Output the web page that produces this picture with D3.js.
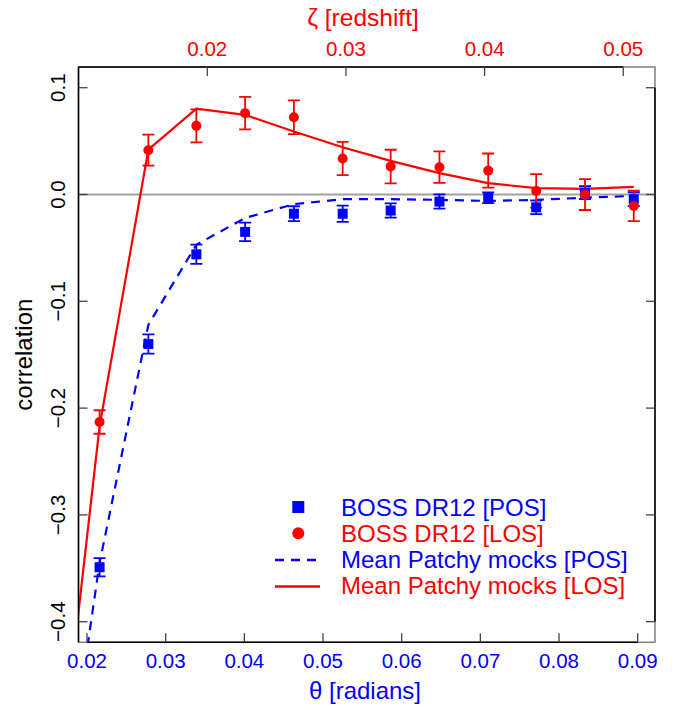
<!DOCTYPE html>
<html>
<head>
<meta charset="utf-8">
<script src="https://cdn.jsdelivr.net/npm/d3@7"></script>
<style>
  body { margin: 0; background: #fff; }
  text { font-family: "Liberation Sans", Arial, sans-serif; }
</style>
</head>
<body>
<svg id="mysvg"></svg>
<script>
// angular separations (radians) where correlations were measured
var theta = [0.0216, 0.0278, 0.0339, 0.0401, 0.0463, 0.0525, 0.0586, 0.0648, 0.0710, 0.0771, 0.0833, 0.0895];

// BOSS DR12 measurements
var posData = [-0.349, -0.140, -0.056, -0.035, -0.018, -0.018, -0.015, -0.0066, -0.003, -0.012, 0.0018, -0.0044];
var posErr  = [0.0085, 0.009, 0.009, 0.0086, 0.007, 0.0076, 0.0067, 0.0067, 0.005, 0.0064, 0.006, 0.0065];
var losData = [-0.213, 0.0415, 0.0643, 0.0762, 0.0724, 0.0337, 0.0262, 0.0256, 0.0224, 0.0034, 0.0, -0.0107];
var losErr  = [0.011, 0.0145, 0.0155, 0.0153, 0.0158, 0.0155, 0.0157, 0.0147, 0.016, 0.0157, 0.0145, 0.0143];

// mean of the Patchy mocks (first point sits left of the plot and is clipped)
var thetaMock = [0.0154, 0.0216, 0.0278, 0.0339, 0.0401, 0.0463, 0.0525, 0.0586, 0.0648, 0.0710, 0.0771, 0.0833, 0.0895];
var posMock = [-0.66, -0.345, -0.122, -0.047, -0.022, -0.009, -0.0044, -0.0044, -0.005, -0.006, -0.005, -0.003, -0.0013];
var losMock = [-0.619, -0.217, 0.042, 0.0805, 0.0746, 0.059, 0.0443, 0.0315, 0.020, 0.0106, 0.0059, 0.0052, 0.0071];

// tick labels
var thetaTicks = [0.02, 0.03, 0.04, 0.05, 0.06, 0.07, 0.08, 0.09];
var zTicks = [0.02, 0.03, 0.04, 0.05];
var corrTicks = [-0.4, -0.3, -0.2, -0.1, 0.0, 0.1];

var legendLabels = ["BOSS DR12 [POS]", "BOSS DR12 [LOS]", "Mean Patchy mocks [POS]", "Mean Patchy mocks [LOS]"];

var BLUE = "#0000ff", RED = "#ff0000";
var W = 679, H = 710;
// plot frame (note: "top" is reserved on window, so use pTop etc)
var pLeft = 78.5, pRight = 655, pTop = 67, pBottom = 642.3;

var svg = d3.select("#mysvg").attr("width", W).attr("height", H);

var x = d3.scaleLinear().domain([0.01892, 0.0922]).range([pLeft, pRight]);
var xz = d3.scaleLinear().domain([0.01071, 0.05229]).range([pLeft, pRight]);
var y = d3.scaleLinear().domain([-0.4193, 0.1194]).range([pBottom, pTop]);

svg.append("defs").append("clipPath").attr("id", "plotclip")
  .append("rect").attr("x", pLeft).attr("y", pTop)
  .attr("width", pRight - pLeft).attr("height", pBottom - pTop);

var plot = svg.append("g").attr("clip-path", "url(#plotclip)");

// zero reference
plot.append("line")
  .attr("x1", pLeft).attr("x2", pRight)
  .attr("y1", y(0)).attr("y2", y(0))
  .style("stroke", "#a0a0a0").style("stroke-width", 1.8);

var line = d3.line()
  .x(function(d) { return x(d[0]); })
  .y(function(d) { return y(d[1]); });

plot.append("path")
  .datum(d3.zip(thetaMock, posMock))
  .attr("d", line)
  .style("fill", "none").style("stroke", BLUE)
  .style("stroke-width", 2.2).style("stroke-dasharray", "9,7");

plot.append("path")
  .datum(d3.zip(thetaMock, losMock))
  .attr("d", line)
  .style("fill", "none").style("stroke", RED)
  .style("stroke-width", 2.2);

// error bars with caps
function errorBars(vals, errs, color) {
  var g = plot.append("g").style("stroke", color).style("stroke-width", 1.8);
  theta.forEach(function(t, i) {
    var cx = x(t), y0 = y(vals[i] - errs[i]), y1 = y(vals[i] + errs[i]);
    g.append("line").attr("x1", cx).attr("x2", cx).attr("y1", y0).attr("y2", y1);
    g.append("line").attr("x1", cx - 6).attr("x2", cx + 6).attr("y1", y0).attr("y2", y0);
    g.append("line").attr("x1", cx - 6).attr("x2", cx + 6).attr("y1", y1).attr("y2", y1);
  });
}
errorBars(posData, posErr, BLUE);
errorBars(losData, losErr, RED);

plot.selectAll(".sq")
  .data(d3.zip(theta, posData))
  .enter().append("rect")
  .attr("x", function(d) { return x(d[0]) - 5; })
  .attr("y", function(d) { return y(d[1]) - 5; })
  .attr("width", 10).attr("height", 10)
  .style("fill", BLUE);

plot.selectAll(".dot")
  .data(d3.zip(theta, losData))
  .enter().append("circle")
  .attr("cx", function(d) { return x(d[0]); })
  .attr("cy", function(d) { return y(d[1]); })
  .attr("r", 5)
  .style("fill", RED);

// box: gray outline, black axis lines between end ticks
svg.append("rect")
  .attr("x", pLeft).attr("y", pTop)
  .attr("width", pRight - pLeft).attr("height", pBottom - pTop)
  .style("fill", "none").style("stroke", "#808080").style("stroke-width", 1.5);

var axisLines = [
  [pLeft, pTop, pLeft, pBottom],
  [pLeft, pTop, xz(0.05), pTop],
  [x(0.02), pBottom, x(0.09), pBottom],
  [pRight, y(-0.4), pRight, y(0.1)]
];
svg.selectAll(".axline").data(axisLines).enter().append("line")
  .attr("x1", function(d) { return d[0]; }).attr("y1", function(d) { return d[1]; })
  .attr("x2", function(d) { return d[2]; }).attr("y2", function(d) { return d[3]; })
  .style("stroke", "#000").style("stroke-width", 1.5);

// inward ticks
var tk = svg.append("g").style("stroke", "#444").style("stroke-width", 1.3);
thetaTicks.forEach(function(t) {
  tk.append("line").attr("x1", x(t)).attr("x2", x(t)).attr("y1", pBottom).attr("y2", pBottom - 9);
});
zTicks.forEach(function(t) {
  tk.append("line").attr("x1", xz(t)).attr("x2", xz(t)).attr("y1", pTop).attr("y2", pTop + 9);
});
corrTicks.forEach(function(t) {
  tk.append("line").attr("x1", pLeft).attr("x2", pLeft + 9).attr("y1", y(t)).attr("y2", y(t));
  tk.append("line").attr("x1", pRight).attr("x2", pRight - 9).attr("y1", y(t)).attr("y2", y(t));
});

// tick labels
svg.selectAll(".xlab").data(thetaTicks).enter().append("text")
  .attr("x", function(d) { return x(d); }).attr("y", 668)
  .style("text-anchor", "middle").style("font-size", "20.5px").style("fill", BLUE)
  .text(function(d) { return d3.format(".2f")(d); });

svg.selectAll(".zlab").data(zTicks).enter().append("text")
  .attr("x", function(d) { return xz(d); }).attr("y", 56)
  .style("text-anchor", "middle").style("font-size", "20.5px").style("fill", RED)
  .text(function(d) { return d3.format(".2f")(d); });

svg.selectAll(".ylab").data(corrTicks).enter().append("text")
  .attr("transform", function(d) { return "translate(65," + y(d) + ") rotate(-90)"; })
  .style("text-anchor", "middle").style("font-size", "20.5px").style("fill", "#000")
  .text(function(d) { return d3.format(".1f")(d).replace("-", "\u2212"); });

// axis titles
svg.append("text")
  .attr("x", 365).attr("y", 699)
  .style("text-anchor", "middle").style("font-size", "24px").style("fill", BLUE)
  .text("\u03b8 [radians]");

svg.append("text")
  .attr("x", 363).attr("y", 26)
  .style("text-anchor", "middle").style("font-size", "24.5px").style("fill", RED)
  .text("\u03b6 [redshift]");

svg.append("text")
  .attr("transform", "translate(32," + ((pTop + pBottom) / 2) + ") rotate(-90)")
  .style("text-anchor", "middle").style("font-size", "24px").style("fill", "#000")
  .text("correlation");

// legend
var legendColors = [BLUE, RED, BLUE, RED];
var lg = svg.append("g");
legendLabels.forEach(function(lab, i) {
  var cy = 507 + i * 26.3;
  lg.append("text").attr("x", 341).attr("y", cy + 8.5)
    .style("font-size", "24px").style("fill", legendColors[i]).text(lab);
});
lg.append("rect").attr("x", 292.3).attr("y", 501).attr("width", 12).attr("height", 12).style("fill", BLUE);
lg.append("circle").attr("cx", 298.3).attr("cy", 533.3).attr("r", 6).style("fill", RED);
lg.append("line").attr("x1", 275).attr("x2", 320).attr("y1", 560).attr("y2", 560)
  .style("stroke", BLUE).style("stroke-width", 2.5).style("stroke-dasharray", "9,7");
lg.append("line").attr("x1", 275).attr("x2", 320).attr("y1", 586.5).attr("y2", 586.5)
  .style("stroke", RED).style("stroke-width", 2.5);
</script>
</body>
</html>
